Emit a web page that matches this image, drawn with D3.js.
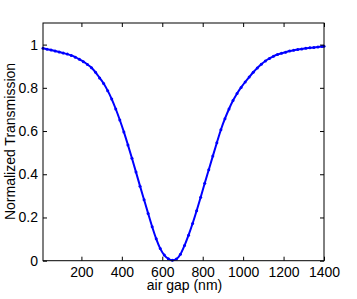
<html>
<head>
<meta charset="utf-8">
<style>
body { margin: 0; background: #fff; }
text { font: 14px "Liberation Sans", Arial, sans-serif; fill: #000; }
</style>
</head>
<body>
<svg width="357" height="299"></svg>
<script src="https://d3js.org/d3.v7.min.js"></script>
<script>

// air gap (nm) and normalized transmission
var gap = [10, 30, 50, 70, 90, 110, 130, 150, 170, 190, 210, 230, 250, 270, 290,
  310, 330, 350, 370, 390, 410, 430, 450, 470, 490, 510, 530, 550, 570, 590,
  610, 630, 650, 670, 690, 710, 730, 750, 770, 790, 810, 830, 850, 870, 890,
  910, 930, 950, 970, 990, 1010, 1030, 1050, 1070, 1090, 1110, 1130, 1150, 1170, 1190,
  1210, 1230, 1250, 1270, 1290, 1310, 1330, 1350, 1370, 1390, 1400];
var trans = [0.983, 0.979, 0.975, 0.970, 0.966, 0.961, 0.956, 0.950, 0.942, 0.932, 0.921, 0.908, 0.893, 0.872, 0.846,
  0.820, 0.787, 0.748, 0.702, 0.651, 0.596, 0.536, 0.474, 0.410, 0.345, 0.282, 0.219, 0.157, 0.101, 0.056,
  0.026, 0.009, 0.002, 0.008, 0.030, 0.070, 0.118, 0.172, 0.231, 0.294, 0.358, 0.421, 0.484, 0.546, 0.606,
  0.657, 0.702, 0.741, 0.774, 0.802, 0.827, 0.850, 0.872, 0.892, 0.909, 0.924, 0.936, 0.946, 0.954, 0.960,
  0.965, 0.970, 0.974, 0.977, 0.980, 0.983, 0.985, 0.987, 0.989, 0.991, 0.992];

var xTicks = [200, 400, 600, 800, 1000, 1200, 1400];
var yTicks = [0, 0.2, 0.4, 0.6, 0.8, 1];

var svg = d3.select("svg");
var plotL = 43, plotR = 324, plotT = 23, plotB = 260.7;

var x = d3.scaleLinear().domain([10, 1400]).range([plotL, plotR]);
var y = d3.scaleLinear().domain([0, 1.1]).range([plotB, plotT]);

var data = gap.map(function(g, i) { return {g: g, t: trans[i]}; });

// curve
svg.append("path")
    .datum(data)
    .attr("fill", "none")
    .attr("stroke", "#0000ff")
    .attr("stroke-width", 2)
    .attr("d", d3.line().curve(d3.curveMonotoneX)
      .x(function(d) { return x(d.g); })
      .y(function(d) { return y(d.t); }));

svg.selectAll(".dot")
  .data(data)
  .enter().append("circle")
    .attr("class", "dot")
    .attr("cx", function(d) { return x(d.g); })
    .attr("cy", function(d) { return y(d.t); })
    .attr("r", 1.5)
    .attr("fill", "#0000ff");

// axes, ticks pointing inward like matlab
var axB = svg.append("g").attr("transform", "translate(0," + plotB + ")")
    .call(d3.axisBottom(x).tickValues(xTicks).tickSizeInner(-4).tickSizeOuter(0).tickPadding(6)
      .tickFormat(d3.format("d")));
var axT = svg.append("g").attr("transform", "translate(0," + plotT + ")")
    .call(d3.axisTop(x).tickValues(xTicks).tickSizeInner(-4).tickSizeOuter(0).tickFormat(""));
var axL = svg.append("g").attr("transform", "translate(" + plotL + ",0)")
    .call(d3.axisLeft(y).tickValues(yTicks).tickSizeInner(-4).tickSizeOuter(0).tickPadding(5)
      .tickFormat(function(d) { return d === 0 || d === 1 ? d3.format("d")(d) : d3.format(".1f")(d); }));
var axR = svg.append("g").attr("transform", "translate(" + plotR + ",0)")
    .call(d3.axisRight(y).tickValues(yTicks).tickSizeInner(-4).tickSizeOuter(0).tickFormat(""));

[axB, axT, axL, axR].forEach(function(a) {
  a.select(".domain").remove();
  a.selectAll("line").attr("stroke", "#000");
  a.selectAll("text").style("font", "14px 'Liberation Sans', Arial, sans-serif").attr("fill", "#000");
});

svg.append("rect")
    .attr("x", plotL).attr("y", plotT)
    .attr("width", plotR - plotL).attr("height", plotB - plotT)
    .attr("fill", "none").attr("stroke", "#000").attr("stroke-width", 1);

svg.append("text")
    .attr("x", (plotL + plotR) / 2 + 1)
    .attr("y", 290)
    .attr("text-anchor", "middle")
    .text("air gap (nm)");

svg.append("text")
    .attr("transform", "translate(14.5,141.5) rotate(-90)")
    .attr("text-anchor", "middle")
    .text("Normalized Transmission");

</script>
</body>
</html>
